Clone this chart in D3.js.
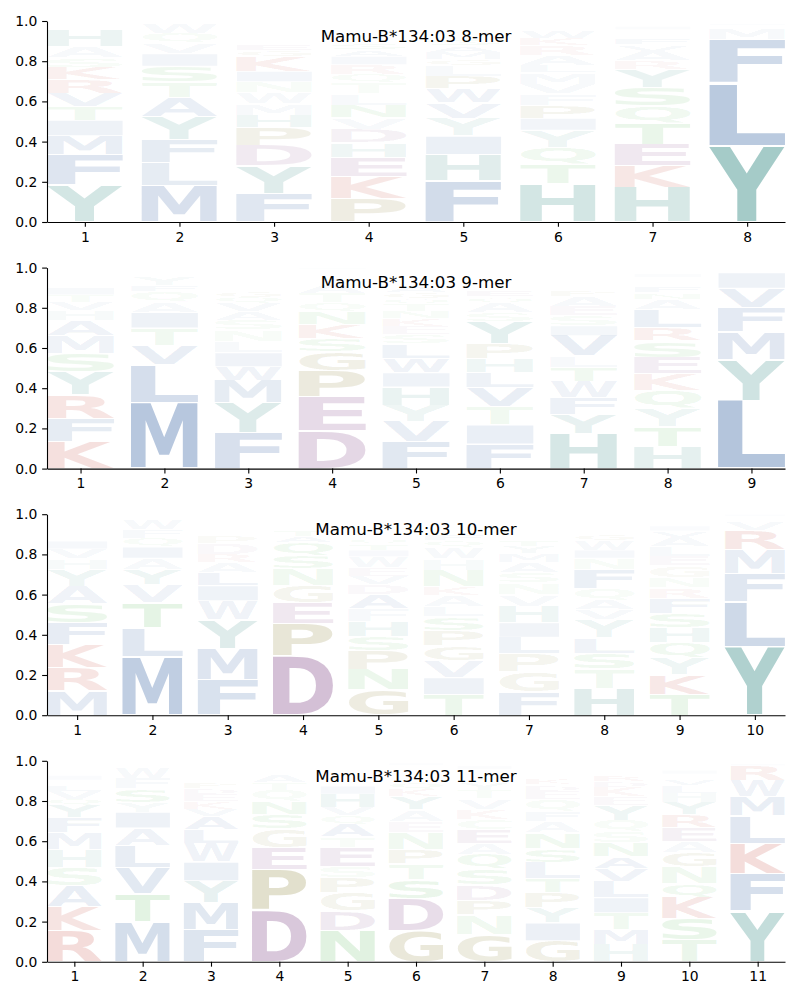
<!DOCTYPE html>
<html><head><meta charset="utf-8">
<script src="https://cdn.jsdelivr.net/npm/d3@7/dist/d3.min.js"></script>
<style>body{margin:0;background:#fff}</style>
</head><body>
<svg id="chart" width="800" height="1000"></svg>
<script>
// ---------------- data ----------------
const panelTitles = ["Mamu-B*134:03 8-mer","Mamu-B*134:03 9-mer","Mamu-B*134:03 10-mer","Mamu-B*134:03 11-mer"];
const yTicks = [0, 0.2, 0.4, 0.6, 0.8, 1.0];

// letters of each position, bottom to top
const letters8 = [
  "YFMITVRKSAHLQNEG",
  "MLFYATSIVQWHE",
  "FYDPHMWNIKGESVALTQR",
  "PKEHDVNLTQRIASFGYMWC",
  "FHIYVWPLGMASTENKQR",
  "HTQYIPFVMLARKWESNG",
  "HKETQSYRAVFLNIMPD",
  "YLFMWIVH"
];
const values8 = [
  [.18,.146,.093,.075,.066,.066,.066,.06,.046,.055,.08,.014,.01,.008,.006,.005],
  [.174,.111,.108,.111,.091,.075,.075,.06,.05,.046,.046,.008,.006],
  [.138,.133,.096,.085,.061,.056,.053,.051,.05,.07,.03,.028,.025,.022,.02,.016,.012,.01,.008],
  [.111,.1,.093,.066,.063,.055,.058,.055,.05,.04,.045,.04,.03,.03,.025,.022,.02,.018,.012,.008],
  [.196,.124,.088,.083,.075,.066,.058,.053,.03,.033,.03,.028,.022,.02,.016,.014,.01,.008],
  [.179,.091,.078,.078,.056,.058,.055,.046,.053,.033,.046,.046,.035,.035,.015,.012,.01,.008],
  [.166,.103,.103,.103,.083,.086,.088,.041,.046,.03,.028,.025,.02,.015,.012,.008,.006],
  [.37,.303,.21,.056,.012,.01,.008,.005]
];

const letters9 = [
  "KFRYSMAHVTILQNEGPW",
  "MLVTIAQFYSWHN",
  "FYMWILNSAVQGEHTKDPR",
  "DEPGSKNQTAHRVLYI",
  "FVYHIWLSEKNTQGARPMDC",
  "FITVLHPYSAQENGKWRM",
  "HYFWTLVISEAPQNMGKDR",
  "HTYQKESRLANFVGIMPD",
  "LYMFVIWAH"
];
const values9 = [
  [.13,.11,.11,.11,.087,.087,.072,.045,.04,.035,.035,.025,.02,.015,.012,.01,.008,.005],
  [.317,.183,.093,.083,.075,.05,.05,.03,.04,.015,.012,.01,.008],
  [.172,.14,.108,.065,.067,.053,.055,.047,.04,.04,.03,.028,.025,.022,.02,.015,.012,.01,.008],
  [.18,.16,.128,.092,.063,.067,.06,.042,.045,.04,.02,.018,.015,.012,.01,.008],
  [.13,.097,.08,.088,.07,.07,.07,.045,.04,.038,.035,.033,.03,.028,.028,.025,.022,.02,.015,.01],
  [.117,.092,.087,.09,.075,.065,.072,.108,.04,.047,.03,.028,.025,.022,.02,.018,.015,.012],
  [.167,.092,.078,.078,.07,.053,.097,.047,.047,.047,.047,.028,.025,.022,.02,.015,.012,.01,.005],
  [.105,.095,.087,.087,.078,.078,.078,.062,.087,.05,.03,.028,.025,.02,.018,.012,.01,.007],
  [.328,.197,.133,.117,.092,.075,.01,.008,.007]
];

const letters10 = [
  "MRKFSAYHVILTQNWEGP",
  "MLTVYAIQFWSHN",
  "FMYWILARDPESNGKQT",
  "DPEGNSQATKHRYV",
  "GNPSHFADVEWITQKYLRMC",
  "TIVGPSLAKNHWQFEDRYM",
  "FGPLIHVNSAMYTQEDKRW",
  "HTSLYVAQFNIWGEKMPRD",
  "TKYQHSFRNGELAVIMDPW",
  "YLFMRVKWI"
];
const values10 = [
  [.116,.11,.11,.104,.09,.083,.081,.05,.046,.038,.025,.022,.02,.018,.014,.012,.01,.006],
  [.275,.138,.12,.083,.07,.055,.053,.041,.041,.045,.012,.009,.007],
  [.166,.144,.133,.086,.07,.061,.045,.04,.05,.035,.022,.02,.018,.015,.012,.008,.005],
  [.284,.158,.1,.083,.08,.063,.063,.03,.028,.022,.018,.015,.012,.011],
  [.116,.091,.086,.066,.07,.055,.066,.046,.038,.038,.05,.03,.028,.026,.024,.022,.02,.018,.016,.01],
  [.091,.073,.075,.066,.066,.06,.045,.05,.04,.07,.05,.05,.03,.028,.025,.02,.015,.015,.012],
  [.1,.086,.078,.07,.063,.07,.05,.05,.045,.045,.035,.03,.028,.025,.022,.02,.018,.015,.012],
  [.126,.088,.075,.071,.086,.045,.045,.053,.088,.053,.038,.046,.03,.025,.02,.016,.012,.01,.008],
  [.1,.091,.081,.075,.071,.066,.071,.05,.05,.055,.045,.045,.045,.03,.025,.02,.015,.012,.008],
  [.327,.217,.138,.116,.091,.04,.015,.012,.01]
];

const letters11 = [
  "RKASHMFYQVLTINGEWP",
  "MTVLAIYSFWQHN",
  "FMYIWLAVKEDPHNTSQR",
  "DPEGSNQTAKHRVY",
  "NDGPSETAQVHIKLYFRMW",
  "GDSTPNEAYKQHVLRIF",
  "GNPDSQAECKVTYHLFIRM",
  "GIYPTLSNAFQEDKVHRMW",
  "HMTILVANSQYEKDRGFPW",
  "TSKQNGAERYHLVFIDMP",
  "YFKLMWRIVH"
];
const values11 = [
  [.147,.115,.1,.087,.088,.082,.07,.058,.03,.038,.028,.025,.022,.02,.016,.014,.01,.01],
  [.188,.133,.125,.103,.082,.075,.047,.063,.05,.05,.015,.01,.008],
  [.15,.128,.1,.087,.088,.062,.062,.035,.035,.032,.03,.028,.025,.022,.018,.015,.012,.008],
  [.247,.198,.105,.088,.07,.063,.055,.038,.038,.02,.015,.012,.01,.008],
  [.147,.092,.087,.072,.053,.092,.047,.06,.042,.038,.063,.038,.025,.022,.02,.018,.015,.012,.008],
  [.147,.153,.09,.075,.07,.078,.053,.055,.062,.037,.03,.025,.022,.02,.015,.012,.01],
  [.122,.087,.065,.067,.07,.065,.05,.062,.045,.045,.045,.037,.03,.025,.022,.018,.015,.012,.01],
  [.097,.082,.072,.07,.062,.075,.063,.072,.053,.047,.055,.038,.03,.028,.025,.022,.015,.012,.008],
  [.083,.072,.08,.072,.078,.062,.057,.067,.053,.055,.072,.04,.045,.03,.028,.025,.02,.015,.01],
  [.105,.103,.103,.067,.08,.067,.055,.067,.063,.058,.045,.037,.03,.025,.02,.018,.015,.012],
  [.242,.182,.142,.132,.092,.078,.07,.01,.008,.006]
];

// amino-acid colour groups
const groupColors = {
  hydrophobic: "#1b4e96",
  aromaticPolar: "#0c726a",
  basic: "#b41000",
  acidic: "#67216e",
  special: "#6b5f00",
  polar: "#2da52d"
};
const letterGroup = {
  A:"hydrophobic",V:"hydrophobic",L:"hydrophobic",I:"hydrophobic",M:"hydrophobic",F:"hydrophobic",W:"hydrophobic",
  Y:"aromaticPolar",H:"aromaticPolar",
  K:"basic",R:"basic",
  D:"acidic",E:"acidic",
  P:"special",G:"special",
  S:"polar",T:"polar",N:"polar",Q:"polar",C:"polar"
};

// ---------------- drawing ----------------
const panels = [
  {title: panelTitles[0], letters: letters8, values: values8},
  {title: panelTitles[1], letters: letters9, values: values9},
  {title: panelTitles[2], letters: letters10, values: values10},
  {title: panelTitles[3], letters: letters11, values: values11}
];
const svg = d3.select("#chart");
const plotLeft = 47, plotRight = 785;
const panelTop0 = 21, panelStep = 246.6, panelH = 201;
const FS = 100;
const FONT = "DejaVu Sans";

const ctx = document.createElement("canvas").getContext("2d");
ctx.font = `bold ${FS}px "${FONT}"`;
const metricsCache = {};
function glyphMetrics(ch) {
  if (!metricsCache[ch]) {
    const m = ctx.measureText(ch);
    metricsCache[ch] = {l: m.actualBoundingBoxLeft, r: m.actualBoundingBoxRight,
                        a: m.actualBoundingBoxAscent, d: m.actualBoundingBoxDescent};
  }
  return metricsCache[ch];
}

panels.forEach((p, i) => {
  const top = panelTop0 + i * panelStep, bottom = top + panelH;
  const n = p.letters.length;
  const positions = d3.range(1, n + 1);
  const x = d3.scaleLinear().domain([0.6, n + 0.4]).range([plotLeft, plotRight]);
  const y = d3.scaleLinear().domain([0, 1]).range([bottom, top]);
  const g = svg.append("g");

  p.letters.forEach((str, ci) => {
    const vals = p.values[ci];
    const total = d3.sum(vals);
    let cum = 0;
    str.split("").forEach((ch, k) => {
      const v = vals[k];
      const y0 = cum / total, y1 = (cum + v) / total;
      cum += v;
      const pxTop = y(y1), pxBot = y(y0);
      const hpx = pxBot - pxTop;
      const pad = 0.35 + 0.012 * hpx;
      const rt = pxTop + pad, rh = Math.max(0.1, hpx - 2 * pad);
      const xl = x(positions[ci] - 0.4), rw = x(positions[ci] + 0.4) - xl;
      const m = glyphMetrics(ch);
      const sx = rw / (m.l + m.r), sy = rh / (m.a + m.d);
      g.append("text")
        .attr("transform", `translate(${xl},${rt}) scale(${sx},${sy}) translate(${m.l},${m.a})`)
        .attr("font-family", FONT).attr("font-weight", "bold").attr("font-size", FS)
        .attr("fill", groupColors[letterGroup[ch]])
        .attr("fill-opacity", Math.min(1, v))
        .text(ch);
    });
  });

  const yAxis = d3.axisLeft(y).tickValues(yTicks).tickFormat(d3.format(".1f"))
    .tickSize(4.86).tickPadding(4.86).tickSizeOuter(0);
  const xAxis = d3.axisBottom(x).tickValues(positions).tickFormat(d3.format("d"))
    .tickSize(4.86).tickPadding(4.86).tickSizeOuter(0);

  const ga = svg.append("g").attr("transform", `translate(${plotLeft},0)`).call(yAxis);
  const gb = svg.append("g").attr("transform", `translate(0,${bottom})`).call(xAxis);
  [ga, gb].forEach(a => {
    a.selectAll("text").attr("font-family", FONT).attr("font-size", 13.9).attr("fill", "#000");
    a.selectAll("line").attr("stroke", "#000").attr("stroke-width", 1.1);
    a.select(".domain").attr("stroke", "#000").attr("stroke-width", 1.1);
  });

  svg.append("text")
    .attr("x", (plotLeft + plotRight) / 2).attr("y", top + 20.7)
    .attr("text-anchor", "middle")
    .attr("font-family", FONT).attr("font-size", 16.7).attr("fill", "#000")
    .text(p.title);
});
</script>
</body></html>
